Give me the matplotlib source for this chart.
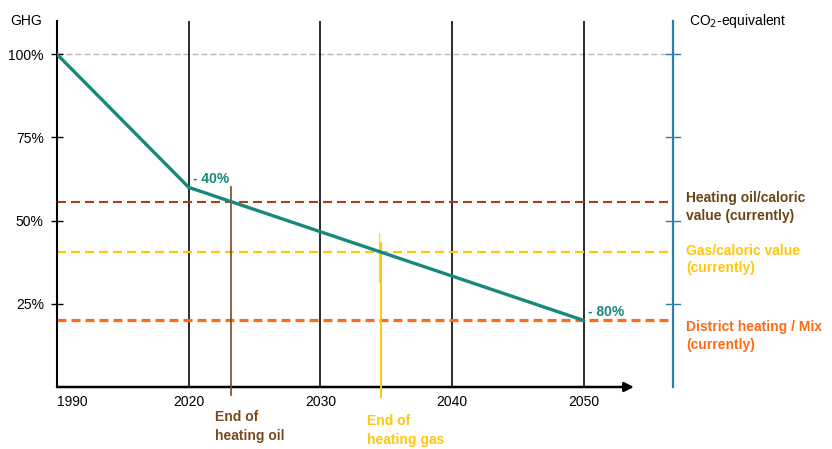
import matplotlib
matplotlib.use("Agg")
import matplotlib.pyplot as plt
import numpy as np

plt.rcParams["font.family"] = ["Liberation Sans", "DejaVu Sans"]

# x axis: 1990 then decades 2020..2050, drawn at equal spacing
tick_years = [1990, 2020, 2030, 2040, 2050]
tick_labels = ["1990", "2020", "2030", "2040", "2050"]

# GHG reduction path (share of 1990 emissions, %)
path_years = [1990, 2020, 2050]
path_reduction = [0, 40, 80]
path_share = [100 - r for r in path_reduction]

# CO2-equivalent of current energy carriers (% of 1990 level)
carrier_names = ["Heating oil/caloric\nvalue (currently)",
                 "Gas/caloric value\n(currently)",
                 "District heating / Mix\n(currently)"]
carrier_levels = [55.5, 40.5, 20]

# phase-out years
end_years = [2023.2, 2034.6]
end_labels = ["End of\nheating oil", "End of\nheating gas"]

TEAL = "#17897b"
BLUE = "#2a7fae"
OIL = "#a8401e"
OIL_TXT = "#6b4416"
GAS = "#ffc60a"
DIST = "#ff6a12"


def ypos(year):
    return np.interp(year, tick_years, np.arange(len(tick_years)))


def dashes(lw, on_px, off_px):
    # dash pattern given in pixels at 100 dpi
    k = 0.72 / lw
    return (0, (on_px * k, off_px * k))


fig = plt.figure(figsize=(8.32, 4.49), dpi=100)
ax = fig.add_axes([57 / 832, 62 / 449, 616 / 832, 366 / 449])
xmax = 4.677
ax.set_xlim(0, xmax)
ax.set_ylim(0, 110)

for s in ["top", "bottom"]:
    ax.spines[s].set_visible(False)
ax.spines["left"].set_linewidth(1.5)
ax.spines["right"].set_color(BLUE)
ax.spines["right"].set_linewidth(1.6)

ax.set_yticks([25, 50, 75, 100], ["25%", "50%", "75%", "100%"])
ax.tick_params(axis="y", direction="inout", length=9, width=1, pad=5,
               labelsize=10)
ax.set_xticks(np.arange(len(tick_years)), tick_labels)
ax.tick_params(axis="x", length=0, pad=6, labelsize=10)
ax.get_xticklabels()[0].set_horizontalalignment("left")

# blue right axis ticks
for y in [25, 50, 75, 100]:
    ax.plot([xmax - 0.05, xmax + 0.05], [y, y], color=BLUE, lw=1,
            clip_on=False, zorder=4)

# x axis with arrow
ax.annotate("", xy=(4.38, 0), xytext=(0, 0),
            arrowprops=dict(arrowstyle="-|>", color="black", lw=1.8,
                            mutation_scale=14, shrinkA=0, shrinkB=0),
            annotation_clip=False)

# decade markers
for p in range(1, len(tick_years)):
    ax.plot([p, p], [0, 110], color="#1a1a1a", lw=1.3, zorder=2)

# 1990 reference level
ax.plot([0, xmax], [100, 100], color="#b8b8b8", lw=1, ls=dashes(1, 6, 3),
        zorder=1)

# carrier levels
styles = [(OIL, 1.5), (GAS, 1.6), (DIST, 2.3)]
for lvl, (c, lw) in zip(carrier_levels, styles):
    ax.plot([0, xmax], [lvl, lvl], color=c, lw=lw, ls=dashes(lw, 9, 5),
            zorder=2)

# phase-out markers
ax.plot([ypos(end_years[0])] * 2, [60, -2.4], color="#7a4a1e", lw=1.2,
        clip_on=False, zorder=3)
ax.plot([ypos(end_years[1]) - 0.018] * 2, [46.4, 31.6], color="#ffd34d",
        lw=1, zorder=3)
ax.plot([ypos(end_years[1])] * 2, [43.4, -3], color=GAS, lw=1.4,
        clip_on=False, zorder=3)

# reduction path
ax.plot(ypos(path_years), path_share, color=TEAL, lw=2.4, zorder=5,
        solid_capstyle="round")
for yr, sh, r in zip(path_years[1:], path_share[1:], path_reduction[1:]):
    ax.text(ypos(yr) + 0.035, sh + 2.4, f"- {r}%", color=TEAL,
            fontsize=10, fontweight="bold", va="center", ha="left")

# labels
ax.text(-0.357, 110, "GHG", fontsize=10, va="center", ha="left",
        clip_on=False)
ax.text(4.80, 110, "CO$_2$-equivalent", fontsize=10, va="center",
        ha="left")
label_colors = [OIL_TXT, GAS, DIST]
label_y = [54, 38.3, 15.4]
for name, c, y in zip(carrier_names, label_colors, label_y):
    ax.text(4.776, y, name, color=c, fontsize=10, fontweight="bold",
            va="center", ha="left", linespacing=1.35)

ax.text(ypos(end_years[0]) - 0.12, -12, end_labels[0], color="#7a4a1e",
        fontsize=10, fontweight="bold", va="center", ha="left",
        linespacing=1.45)
ax.text(ypos(end_years[1]) - 0.11, -13, end_labels[1], color=GAS,
        fontsize=10, fontweight="bold", va="center", ha="left",
        linespacing=1.45)

fig.savefig("out.png", dpi=100)
